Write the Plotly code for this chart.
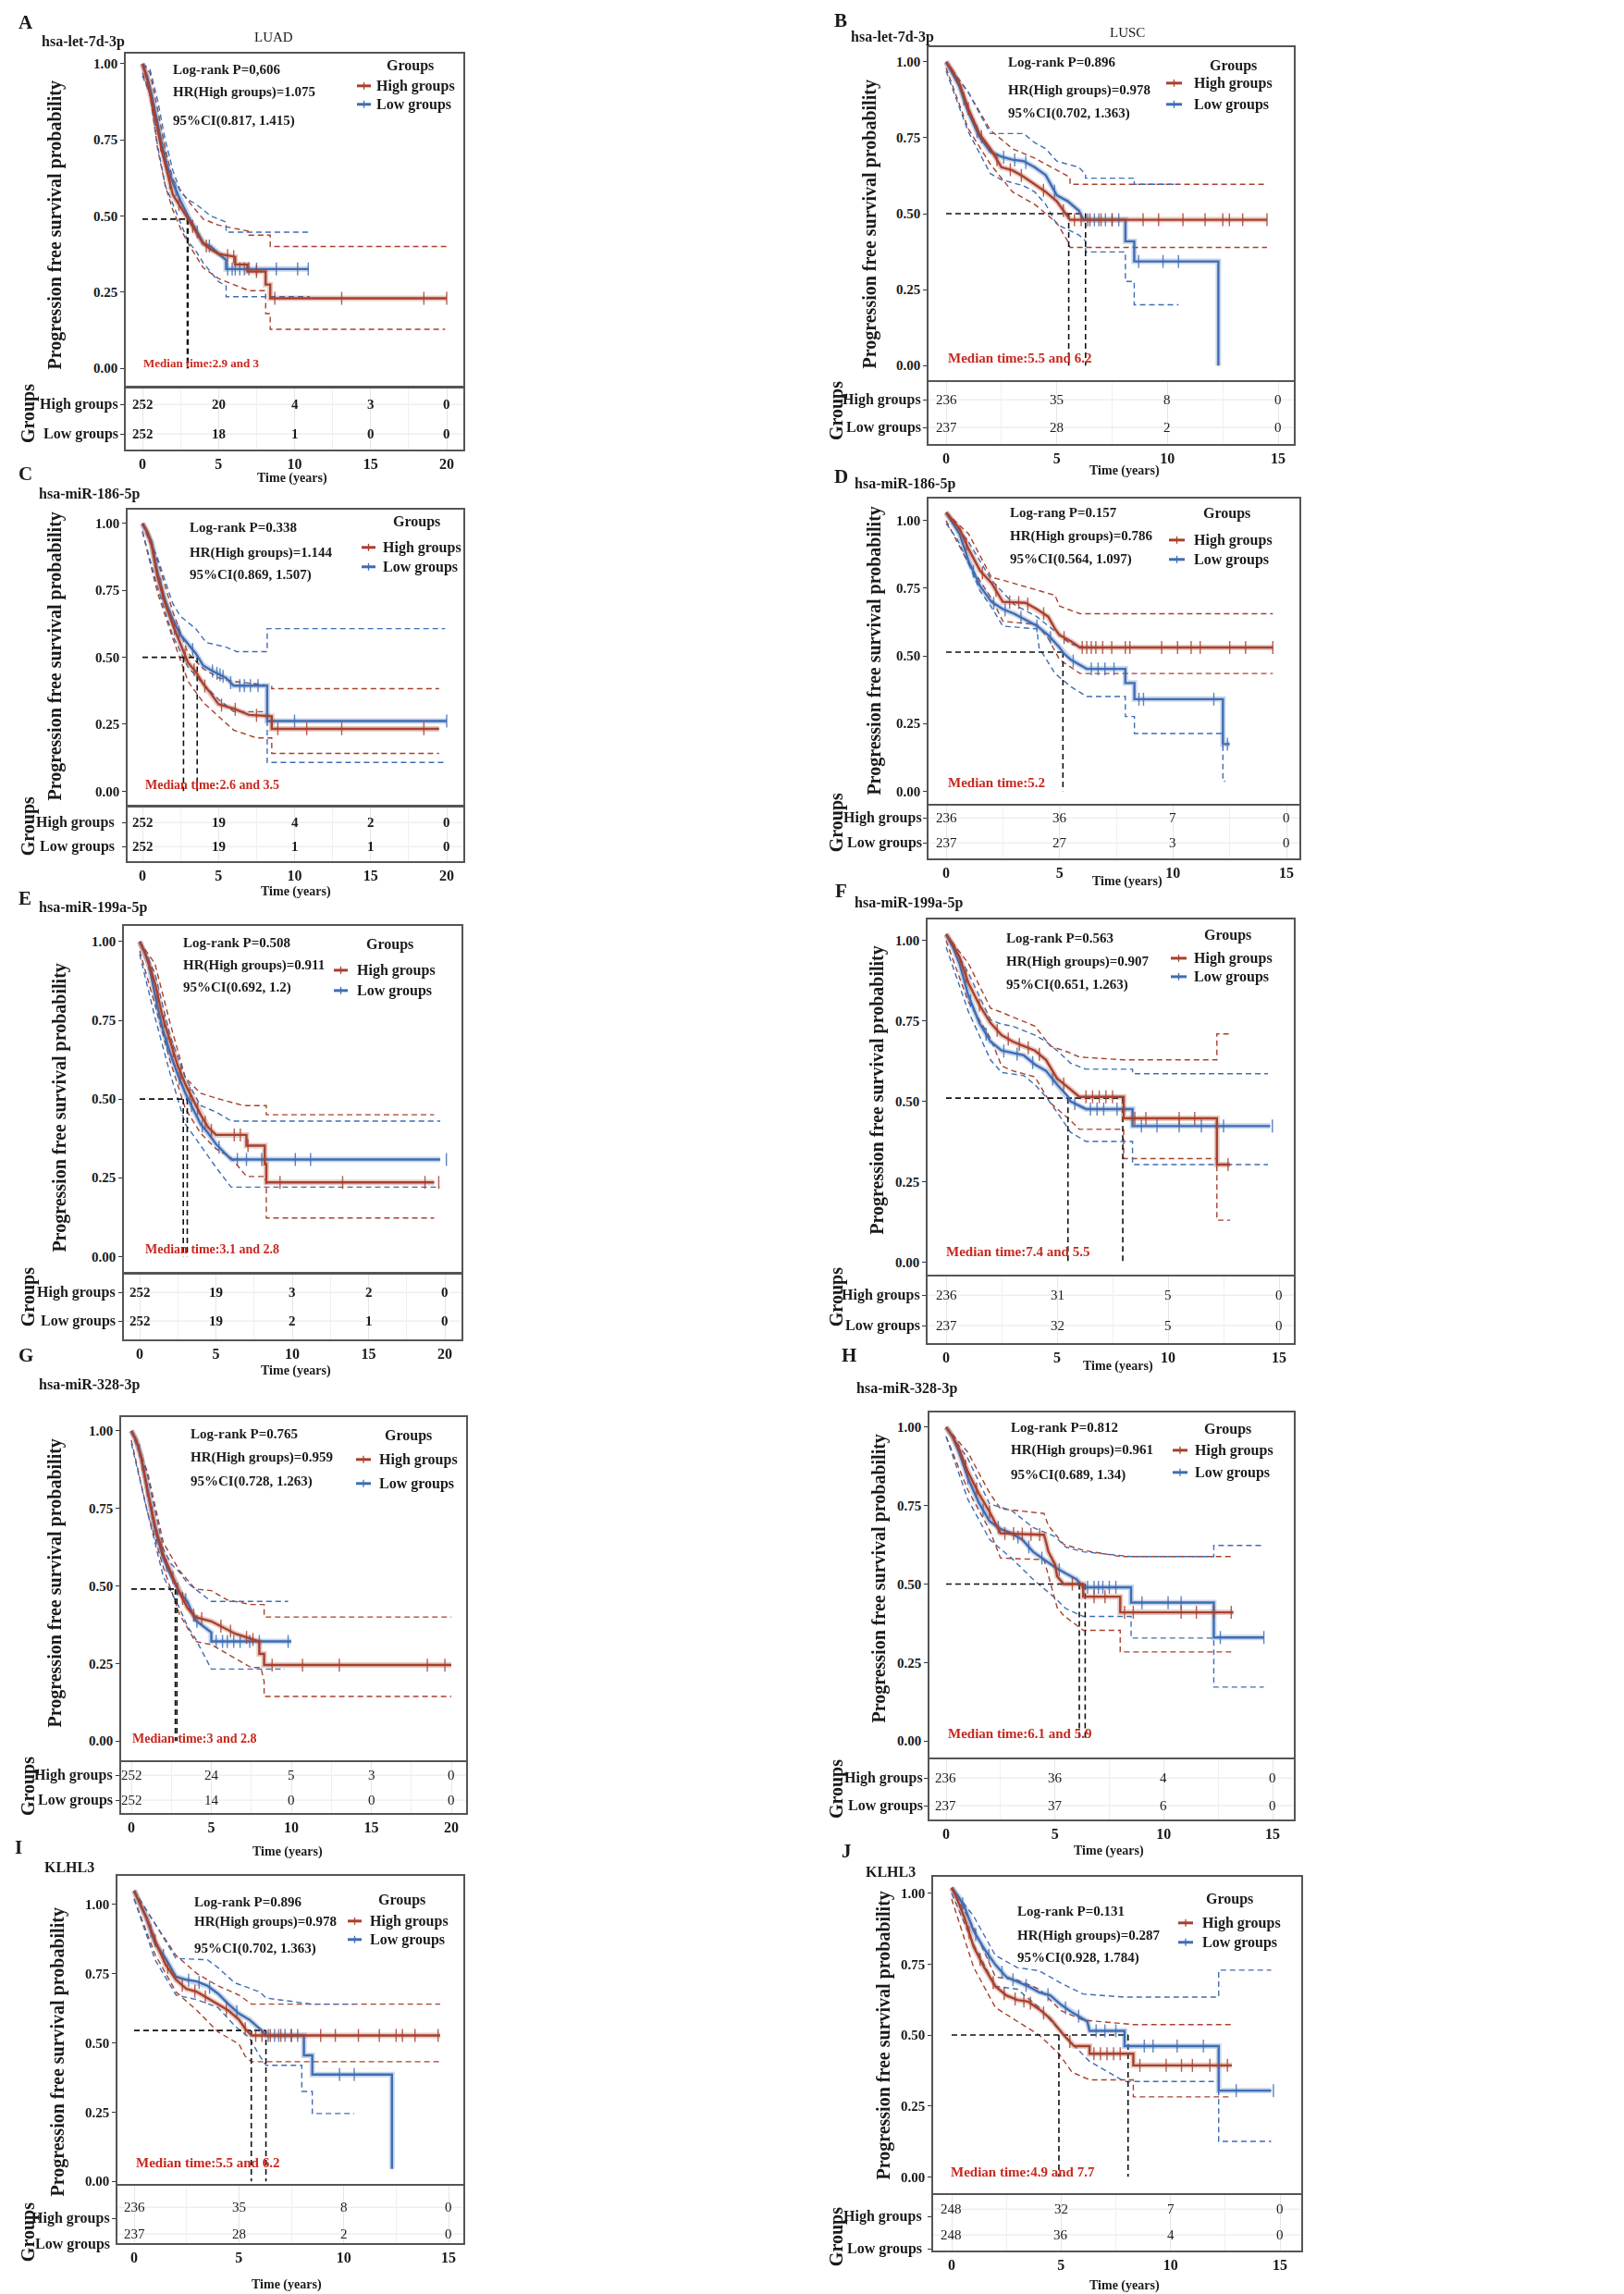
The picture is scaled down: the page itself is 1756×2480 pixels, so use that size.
import plotly.graph_objects as go

# ===================== DATA =====================
T20 = [0, 5, 10, 15, 20]
T15 = [0, 5, 10, 15]
Y_TICKS = [0, 0.25, 0.5, 0.75, 1.0]
Y_TICKTEXT = ["0.00", "0.25", "0.50", "0.75", "1.00"]
GROUP_NAMES = ["High groups", "Low groups"]

# ---- A: hsa-let-7d-3p LUAD ----
a_hi_t = [0, 0.3, 0.6, 1.0, 1.3, 1.6, 2.0, 2.5, 3.0, 3.5, 4.0, 4.5, 5.0, 6.1, 6.1, 6.9, 6.9, 8.1, 8.1, 8.4, 8.4, 20]
a_hi_s = [1.0, 0.95, 0.88, 0.78, 0.71, 0.65, 0.57, 0.53, 0.49, 0.45, 0.41, 0.39, 0.376, 0.366, 0.341, 0.341, 0.318, 0.318, 0.275, 0.275, 0.23, 0.23]
a_lo_t = [0, 0.3, 0.6, 1.0, 1.3, 1.6, 2.0, 2.5, 3.0, 3.5, 4.0, 4.5, 5.0, 5.5, 5.5, 10.9]
a_lo_s = [1.0, 0.96, 0.9, 0.8, 0.73, 0.67, 0.61, 0.55, 0.50, 0.457, 0.41, 0.40, 0.376, 0.356, 0.326, 0.326]
a_hu_t = [0, 0.5, 1, 1.5, 2, 2.5, 3, 3.5, 4, 5, 6.2, 7, 7, 8.4, 8.4, 20]
a_hu_s = [1.0, 0.97, 0.85, 0.72, 0.62, 0.585, 0.55, 0.52, 0.49, 0.47, 0.457, 0.45, 0.437, 0.437, 0.40, 0.40]
a_hl_t = [0, 0.5, 1, 1.5, 2, 2.5, 3, 3.5, 4, 5, 6, 7, 8.1, 8.1, 8.4, 8.4, 19.9]
a_hl_s = [0.97, 0.9, 0.72, 0.6, 0.52, 0.46, 0.41, 0.37, 0.33, 0.295, 0.275, 0.255, 0.255, 0.18, 0.18, 0.128, 0.128]
a_lu_t = [0, 0.5, 1, 1.5, 2, 2.5, 3, 3.5, 4, 4.5, 5.5, 5.5, 11]
a_lu_s = [1.0, 0.98, 0.88, 0.75, 0.65, 0.58, 0.553, 0.54, 0.52, 0.5, 0.48, 0.447, 0.447]
a_ll_t = [0, 0.5, 1, 1.5, 2, 2.5, 3, 3.5, 4, 5, 5.5, 5.5, 11]
a_ll_s = [0.96, 0.9, 0.73, 0.6, 0.54, 0.477, 0.417, 0.386, 0.346, 0.285, 0.27, 0.235, 0.235]
a_hi_c = [1.2, 1.8, 2.4, 3.3, 4.2, 5.6, 6.0, 7.5, 8.7, 13.1, 18.5, 20]
a_lo_c = [1.0, 1.5, 2.2, 3.6, 4.4, 5.6, 5.9, 6.1, 6.4, 6.7, 7.0, 7.5, 8.8, 10.2, 10.9]
a_med = [2.95, 3.0]
a_med_level = 0.49
a_risk_hi = [252, 20, 4, 3, 0]
a_risk_lo = [252, 18, 1, 0, 0]
a_stats = ["Log-rank P=0,606", "HR(High groups)=1.075", "95%CI(0.817, 1.415)"]
a_median_text = "Median time:2.9 and 3"

# ---- B: hsa-let-7d-3p LUSC ----
b_hi_t = [0, 0.3, 0.6, 1.0, 1.5, 2.0, 2.5, 3.0, 3.5, 4.0, 4.5, 5.0, 5.5, 5.6, 14.5]
b_hi_s = [1.0, 0.97, 0.93, 0.846, 0.764, 0.714, 0.653, 0.643, 0.622, 0.597, 0.572, 0.541, 0.49, 0.48, 0.48]
b_lo_t = [0, 0.3, 0.6, 1.0, 1.5, 2.0, 2.5, 3.0, 3.5, 4.0, 4.5, 5.0, 5.5, 6.0, 6.2, 8.1, 8.1, 8.5, 8.5, 12.3, 12.3]
b_lo_s = [1.0, 0.96, 0.92, 0.836, 0.754, 0.704, 0.688, 0.678, 0.673, 0.653, 0.627, 0.561, 0.541, 0.51, 0.48, 0.48, 0.409, 0.409, 0.343, 0.343, 0.0]
b_hu_t = [0, 1, 2, 3, 4, 5, 5.6, 5.6, 14.5]
b_hu_s = [1.0, 0.9, 0.775, 0.714, 0.683, 0.643, 0.62, 0.597, 0.597]
b_hl_t = [0, 1, 2, 3, 4, 5, 5.5, 5.6, 14.5]
b_hl_s = [0.98, 0.78, 0.663, 0.572, 0.531, 0.47, 0.409, 0.389, 0.389]
b_lu_t = [0, 1, 2, 3.5, 4, 4.5, 5, 6, 6.3, 6.3, 8.5, 8.5, 10.5]
b_lu_s = [1.0, 0.9, 0.764, 0.764, 0.734, 0.714, 0.673, 0.653, 0.63, 0.617, 0.617, 0.597, 0.597]
b_ll_t = [0, 1, 2, 2.5, 3.5, 4, 4.5, 5, 6, 6.3, 6.3, 8.1, 8.1, 8.5, 8.5, 10.5]
b_ll_s = [0.97, 0.77, 0.632, 0.612, 0.592, 0.572, 0.531, 0.465, 0.43, 0.41, 0.374, 0.374, 0.277, 0.277, 0.2, 0.2]
b_hi_c = [1.0, 1.6, 2.3, 2.9, 3.4, 4.4, 5.3, 5.8, 6.1, 6.5, 7.0, 7.5, 8.9, 9.6, 10.7, 11.7, 12.5, 12.8, 13.4, 14.5]
b_lo_c = [0.8, 1.4, 2.6, 3.1, 3.6, 4.9, 6.4, 6.7, 6.9, 7.2, 7.5, 7.8, 8.7, 9.8, 10.5]
b_med = [5.54, 6.3]
b_med_level = 0.5
b_risk_hi = [236, 35, 8, 0]
b_risk_lo = [237, 28, 2, 0]
b_stats = ["Log-rank P=0.896", "HR(High groups)=0.978", "95%CI(0.702, 1.363)"]
b_median_text = "Median time:5.5 and 6.2"

# ---- C: hsa-miR-186-5p LUAD ----
c_hi_t = [0, 0.3, 0.6, 1.0, 1.5, 2.0, 2.5, 3.0, 3.5, 4.0, 4.5, 5.0, 6.0, 7.0, 8.5, 8.5, 19.5]
c_hi_s = [1.0, 0.97, 0.92, 0.80, 0.70, 0.62, 0.55, 0.48, 0.446, 0.40, 0.365, 0.325, 0.308, 0.285, 0.28, 0.233, 0.233]
c_lo_t = [0, 0.3, 0.6, 1.0, 1.5, 2.0, 2.5, 3.0, 3.5, 4.0, 4.5, 5.5, 6.0, 8.2, 8.2, 20]
c_lo_s = [1.0, 0.97, 0.93, 0.814, 0.71, 0.641, 0.584, 0.55, 0.515, 0.469, 0.452, 0.423, 0.394, 0.394, 0.262, 0.262]
c_hu_t = [0, 1, 2, 3, 4, 5, 6, 8.2, 8.5, 8.5, 19.5]
c_hu_s = [1.0, 0.86, 0.67, 0.515, 0.457, 0.423, 0.41, 0.394, 0.394, 0.383, 0.383]
c_hl_t = [0, 1, 2, 3, 4, 5, 6, 7.5, 8.5, 8.5, 19.5]
c_hl_s = [0.97, 0.74, 0.57, 0.41, 0.331, 0.28, 0.228, 0.199, 0.199, 0.141, 0.141]
c_lu_t = [0, 1, 2, 2.5, 3, 3.5, 4.2, 5.5, 6.2, 8.2, 8.2, 19.9]
c_lu_s = [1.0, 0.87, 0.70, 0.653, 0.63, 0.607, 0.555, 0.538, 0.521, 0.521, 0.607, 0.607]
c_ll_t = [0, 1, 2, 3, 4, 5, 6, 8.2, 8.2, 19.9]
c_ll_s = [0.97, 0.76, 0.58, 0.463, 0.40, 0.343, 0.297, 0.297, 0.107, 0.107]
c_hi_c = [1.3, 2.1, 2.8, 3.4, 4.1, 5.2, 6.1, 7.5, 8.9, 10.8, 13.1, 18.5]
c_lo_c = [1.2, 2.4, 3.3, 4.6, 4.9, 5.1, 5.3, 5.8, 6.4, 6.7, 7.1, 7.6, 10.0, 20]
c_med = [2.7, 3.6]
c_med_level = 0.5
c_risk_hi = [252, 19, 4, 2, 0]
c_risk_lo = [252, 19, 1, 1, 0]
c_stats = ["Log-rank P=0.338", "HR(High groups)=1.144", "95%CI(0.869, 1.507)"]
c_median_text = "Median time:2.6 and 3.5"

# ---- D: hsa-miR-186-5p LUSC ----
d_hi_t = [0, 0.3, 0.6, 1.0, 1.5, 2.0, 2.5, 3.5, 4.0, 4.5, 4.8, 5.0, 5.5, 5.9, 14.4]
d_hi_s = [1.03, 1.0, 0.97, 0.894, 0.815, 0.77, 0.70, 0.696, 0.673, 0.645, 0.60, 0.577, 0.554, 0.531, 0.531]
d_lo_t = [0, 0.3, 0.6, 1.0, 1.5, 2.0, 2.5, 3.0, 3.5, 4.0, 4.5, 5.0, 5.2, 5.5, 6.2, 7.9, 7.9, 8.3, 8.3, 12.2, 12.2, 12.5]
d_lo_s = [1.03, 0.99, 0.95, 0.849, 0.758, 0.70, 0.673, 0.656, 0.633, 0.611, 0.577, 0.531, 0.508, 0.486, 0.452, 0.452, 0.40, 0.40, 0.34, 0.34, 0.174, 0.174]
d_hu_t = [0, 1, 2, 2.5, 4.8, 5, 5.9, 14.4]
d_hu_s = [1.03, 0.95, 0.79, 0.78, 0.724, 0.684, 0.656, 0.656]
d_hl_t = [0, 1, 2, 2.5, 4, 4.5, 5, 5.9, 14.4]
d_hl_s = [1.0, 0.84, 0.713, 0.628, 0.616, 0.565, 0.486, 0.435, 0.435]
d_lu_t = [0, 1, 2, 3, 4, 5, 5.5, 6.2, 12.5]
d_lu_s = [1.03, 0.92, 0.78, 0.69, 0.645, 0.577, 0.543, 0.53, 0.53]
d_ll_t = [0, 0.5, 1, 1.5, 2, 2.5, 4, 4.1, 4.8, 5.5, 6.2, 7.9, 7.9, 8.3, 8.3, 12.2, 12.2, 12.3]
d_ll_s = [0.99, 0.93, 0.84, 0.74, 0.68, 0.61, 0.60, 0.53, 0.435, 0.386, 0.35, 0.35, 0.276, 0.276, 0.213, 0.213, 0.037, 0.037]
d_hi_c = [0.9, 1.6, 2.2, 2.8, 3.2, 3.6, 4.3, 5.2, 6.0, 6.2, 6.4, 6.6, 6.9, 7.3, 7.9, 8.1, 9.5, 10.2, 10.8, 11.2, 12.5, 13.2, 14.4]
d_lo_c = [1.2, 2.1, 2.6, 3.3, 4.0, 4.6, 5.6, 6.4, 6.7, 7.0, 7.4, 8.5, 8.7, 11.8, 12.4]
d_med = [5.15]
d_med_level = 0.514
d_risk_hi = [236, 36, 7, 0]
d_risk_lo = [237, 27, 3, 0]
d_stats = ["Log-rang P=0.157", "HR(High groups)=0.786", "95%CI(0.564, 1.097)"]
d_median_text = "Median time:5.2"

# ---- E: hsa-miR-199a-5p LUAD ----
e_hi_t = [0, 0.3, 0.6, 1.0, 1.5, 2.0, 2.5, 3.0, 3.5, 4.0, 4.5, 5.0, 7.0, 7.0, 8.2, 8.2, 8.3, 8.3, 19.3]
e_hi_s = [1.0, 0.97, 0.93, 0.87, 0.762, 0.684, 0.606, 0.547, 0.499, 0.45, 0.41, 0.386, 0.386, 0.352, 0.352, 0.293, 0.293, 0.235, 0.235]
e_lo_t = [0, 0.3, 0.6, 1.0, 1.5, 2.0, 2.5, 3.0, 3.5, 4.0, 4.5, 5.0, 5.5, 6.0, 19.7]
e_lo_s = [1.0, 0.97, 0.93, 0.831, 0.723, 0.645, 0.577, 0.518, 0.469, 0.42, 0.391, 0.357, 0.332, 0.308, 0.308]
e_hu_t = [0, 1, 2, 3, 4, 5, 6.8, 8.3, 8.3, 19.3]
e_hu_s = [1.0, 0.93, 0.74, 0.567, 0.518, 0.503, 0.479, 0.479, 0.45, 0.45]
e_hl_t = [0, 1, 2, 3, 4, 5, 6, 7, 8.2, 8.3, 8.3, 19.3]
e_hl_s = [0.97, 0.8, 0.62, 0.469, 0.391, 0.342, 0.313, 0.254, 0.254, 0.235, 0.122, 0.122]
e_lu_t = [0, 1, 2, 3, 4, 5, 6, 19.7]
e_lu_s = [1.0, 0.9, 0.70, 0.567, 0.479, 0.459, 0.43, 0.43]
e_ll_t = [0, 1, 2, 3, 4, 5, 6, 19.7]
e_ll_s = [0.96, 0.76, 0.58, 0.42, 0.352, 0.283, 0.22, 0.22]
e_hi_c = [0.8, 1.2, 1.6, 2.2, 2.7, 3.3, 3.8, 4.3, 4.7, 6.2, 6.6, 7.1, 9.2, 13.3, 18.7, 19.6]
e_lo_c = [0.6, 1.1, 1.8, 2.6, 3.4, 4.1, 5.2, 6.4, 7.0, 8.0, 10.2, 11.2, 20.1]
e_med = [2.86, 3.12]
e_med_level = 0.5
e_risk_hi = [252, 19, 3, 2, 0]
e_risk_lo = [252, 19, 2, 1, 0]
e_stats = ["Log-rank P=0.508", "HR(High groups)=0.911", "95%CI(0.692, 1.2)"]
e_median_text = "Median time:3.1 and 2.8"

# ---- F: hsa-miR-199a-5p LUSC ----
f_hi_t = [0, 0.3, 0.6, 1.0, 1.5, 2.0, 2.5, 3.0, 3.5, 4.0, 4.5, 5.0, 5.5, 6.0, 8.0, 8.0, 12.2, 12.2, 12.8]
f_hi_s = [1.02, 0.99, 0.95, 0.869, 0.80, 0.744, 0.706, 0.686, 0.672, 0.658, 0.629, 0.571, 0.543, 0.514, 0.514, 0.447, 0.447, 0.303, 0.303]
f_lo_t = [0, 0.3, 0.6, 1.0, 1.5, 2.0, 2.5, 3.5, 4.0, 4.5, 5.0, 5.5, 5.6, 6.3, 8.4, 8.4, 14.6]
f_lo_s = [1.02, 0.98, 0.93, 0.83, 0.744, 0.686, 0.658, 0.643, 0.615, 0.595, 0.552, 0.514, 0.50, 0.476, 0.476, 0.423, 0.423]
f_hu_t = [0, 1, 2, 2.5, 4, 4.7, 5.5, 6, 8, 12.2, 12.2, 12.8]
f_hu_s = [1.02, 0.93, 0.79, 0.777, 0.734, 0.672, 0.653, 0.638, 0.629, 0.629, 0.71, 0.71]
f_hl_t = [0, 1, 2, 2.5, 3, 4, 4.7, 5.5, 6, 8, 8, 12.2, 12.2, 12.8]
f_hl_s = [1.0, 0.81, 0.696, 0.61, 0.595, 0.576, 0.495, 0.447, 0.413, 0.413, 0.322, 0.322, 0.13, 0.13]
f_lu_t = [0, 1, 2, 2.5, 3, 4, 4.5, 5, 5.6, 6.3, 8.4, 8.4, 14.5]
f_lu_s = [1.02, 0.90, 0.754, 0.74, 0.734, 0.706, 0.686, 0.658, 0.619, 0.60, 0.60, 0.586, 0.586]
f_ll_t = [0, 1, 2, 2.5, 3.5, 4, 4.5, 5, 5.6, 6.3, 8.4, 8.4, 14.5]
f_ll_s = [0.98, 0.78, 0.629, 0.59, 0.58, 0.552, 0.514, 0.466, 0.404, 0.375, 0.375, 0.303, 0.303]
f_hi_c = [0.9, 1.5, 2.3, 2.8, 3.3, 3.7, 4.2, 5.3, 6.3, 6.6, 6.9, 7.2, 7.5, 8.5, 9.0, 10.5, 11.2, 12.7]
f_lo_c = [1.1, 1.8, 2.6, 3.2, 3.9, 4.8, 5.8, 6.5, 6.8, 7.1, 7.7, 8.8, 9.5, 10.5, 11.5, 12.5, 14.7]
f_med = [5.49, 7.96]
f_med_level = 0.51
f_risk_hi = [236, 31, 5, 0]
f_risk_lo = [237, 32, 5, 0]
f_stats = ["Log-rank P=0.563", "HR(High groups)=0.907", "95%CI(0.651, 1.263)"]
f_median_text = "Median time:7.4 and 5.5"

# ---- G: hsa-miR-328-3p LUAD ----
g_hi_t = [0, 0.3, 0.6, 1.0, 1.5, 2.0, 2.5, 3.0, 3.5, 4.0, 5.0, 6.0, 6.5, 8.0, 8.0, 8.3, 8.3, 20]
g_hi_s = [1.0, 0.97, 0.92, 0.808, 0.689, 0.60, 0.54, 0.48, 0.43, 0.40, 0.386, 0.36, 0.346, 0.321, 0.281, 0.281, 0.245, 0.245]
g_lo_t = [0, 0.3, 0.6, 1.0, 1.5, 2.0, 2.5, 3.0, 3.5, 4.0, 4.5, 5.0, 5.0, 10.0]
g_lo_s = [1.0, 0.97, 0.92, 0.81, 0.679, 0.589, 0.53, 0.48, 0.45, 0.39, 0.371, 0.35, 0.321, 0.321]
g_hu_t = [0, 1, 2, 3, 4, 5, 6, 7.5, 8.3, 8.3, 20]
g_hu_s = [1.0, 0.87, 0.64, 0.55, 0.49, 0.485, 0.455, 0.44, 0.44, 0.40, 0.40]
g_hl_t = [0, 1, 2, 3, 4, 5, 6, 7.5, 8.1, 8.3, 8.3, 20]
g_hl_s = [0.97, 0.74, 0.56, 0.41, 0.321, 0.311, 0.281, 0.237, 0.237, 0.192, 0.144, 0.144]
g_lu_t = [0, 1, 2, 2.5, 3, 3.5, 4, 5, 9.8]
g_lu_s = [1.0, 0.86, 0.62, 0.57, 0.545, 0.51, 0.49, 0.45, 0.45]
g_ll_t = [0, 1, 2, 3, 3.5, 4, 5, 9.6]
g_ll_s = [0.96, 0.74, 0.53, 0.43, 0.371, 0.331, 0.232, 0.232]
g_hi_c = [0.7, 1.3, 1.9, 2.6, 3.2, 3.9, 4.4, 5.6, 6.2, 7.2, 7.6, 8.8, 10.7, 13.0, 18.5, 19.6]
g_lo_c = [0.5, 1.0, 1.6, 2.2, 2.9, 3.4, 4.1, 5.3, 5.7, 6.0, 6.4, 6.8, 7.4, 8.0, 9.8]
g_med = [2.75, 2.85]
g_med_level = 0.49
g_risk_hi = [252, 24, 5, 3, 0]
g_risk_lo = [252, 14, 0, 0, 0]
g_stats = ["Log-rank P=0.765", "HR(High groups)=0.959", "95%CI(0.728, 1.263)"]
g_median_text = "Median time:3 and 2.8"

# ---- H: hsa-miR-328-3p LUSC ----
h_hi_t = [0, 0.3, 0.6, 1.0, 1.5, 2.0, 2.5, 4.5, 4.6, 4.7, 5.0, 5.1, 5.4, 6.3, 6.3, 8.0, 8.0, 13.2]
h_hi_s = [1.0, 0.97, 0.93, 0.858, 0.789, 0.73, 0.662, 0.657, 0.632, 0.603, 0.564, 0.525, 0.50, 0.50, 0.46, 0.46, 0.41, 0.41]
h_lo_t = [0, 0.3, 0.6, 1.0, 1.5, 2.0, 2.5, 3.0, 3.5, 4.0, 4.5, 5.0, 5.5, 6.0, 6.3, 8.5, 8.5, 12.3, 12.3, 14.6]
h_lo_s = [1.0, 0.97, 0.92, 0.838, 0.76, 0.70, 0.676, 0.662, 0.642, 0.603, 0.578, 0.554, 0.534, 0.515, 0.49, 0.49, 0.441, 0.441, 0.33, 0.33]
h_hu_t = [0, 1, 2, 2.5, 4.5, 4.7, 5.4, 6.3, 8, 13.2]
h_hu_s = [1.0, 0.92, 0.79, 0.74, 0.725, 0.686, 0.627, 0.608, 0.588, 0.588]
h_hl_t = [0, 1, 2, 2.5, 4.5, 4.7, 5.1, 5.4, 6.3, 8, 8, 13.2]
h_hl_s = [0.97, 0.80, 0.672, 0.583, 0.578, 0.525, 0.426, 0.40, 0.353, 0.353, 0.284, 0.284]
h_lu_t = [0, 1, 2, 3, 4, 5, 5.5, 6.3, 8.5, 12.3, 12.3, 14.6]
h_lu_s = [1.0, 0.90, 0.755, 0.735, 0.68, 0.652, 0.618, 0.603, 0.588, 0.588, 0.623, 0.623]
h_ll_t = [0, 1, 2, 3, 4, 5, 5.5, 6.3, 8.5, 8.5, 12.3, 12.3, 14.6]
h_ll_s = [0.97, 0.77, 0.642, 0.583, 0.515, 0.456, 0.422, 0.397, 0.397, 0.328, 0.328, 0.172, 0.172]
h_hi_c = [0.9, 1.4, 2.0, 2.7, 3.1, 3.5, 3.9, 4.3, 5.8, 6.8, 7.3, 8.2, 8.6, 10.8, 11.5, 12.3, 13.1]
h_lo_c = [1.0, 1.7, 2.4, 3.3, 3.8, 4.4, 5.2, 6.5, 6.8, 7.0, 7.2, 7.5, 7.8, 9.0, 10.2, 10.8, 12.6, 14.6]
h_med = [6.12, 6.39]
h_med_level = 0.5
h_risk_hi = [236, 36, 4, 0]
h_risk_lo = [237, 37, 6, 0]
h_stats = ["Log-rank P=0.812", "HR(High groups)=0.961", "95%CI(0.689, 1.34)"]
h_median_text = "Median time:6.1 and 5.9"

# ---- I: KLHL3 LUAD ----
i_hi_t = [0, 0.3, 0.6, 1.0, 1.5, 2.0, 2.5, 3.0, 3.5, 4.0, 4.5, 5.0, 5.3, 5.6, 14.6]
i_hi_s = [1.05, 1.0, 0.95, 0.87, 0.783, 0.728, 0.695, 0.684, 0.662, 0.64, 0.617, 0.584, 0.551, 0.527, 0.527]
i_lo_t = [0, 0.3, 0.6, 1.0, 1.5, 2.0, 2.5, 3.0, 3.5, 4.0, 4.5, 5.0, 5.5, 6.0, 6.3, 8.1, 8.1, 8.5, 8.5, 12.3, 12.3]
i_lo_s = [1.05, 1.0, 0.95, 0.86, 0.805, 0.739, 0.728, 0.722, 0.706, 0.678, 0.64, 0.606, 0.584, 0.551, 0.527, 0.527, 0.455, 0.455, 0.386, 0.386, 0.045]
i_hu_t = [0, 1, 2, 3, 4, 5, 5.6, 14.6]
i_hu_s = [1.05, 0.93, 0.816, 0.75, 0.706, 0.673, 0.64, 0.64]
i_hl_t = [0, 1, 2, 3, 4, 5, 5.3, 5.6, 14.6]
i_hl_s = [1.02, 0.82, 0.684, 0.617, 0.54, 0.496, 0.452, 0.432, 0.432]
i_lu_t = [0, 1, 2, 3.5, 4, 4.8, 6, 6.3, 8.5, 10.5]
i_lu_s = [1.05, 0.93, 0.805, 0.80, 0.772, 0.717, 0.684, 0.662, 0.64, 0.64]
i_ll_t = [0, 1, 2, 3, 4, 4.8, 5.5, 6, 6.3, 8, 8, 8.5, 8.5, 10.5]
i_ll_s = [1.02, 0.80, 0.673, 0.656, 0.628, 0.562, 0.518, 0.452, 0.419, 0.419, 0.325, 0.325, 0.245, 0.245]
i_hi_c = [1.0, 1.6, 2.3, 2.9, 3.4, 4.4, 5.3, 5.8, 6.1, 6.5, 7.0, 7.5, 8.9, 9.6, 10.7, 11.7, 12.5, 12.8, 13.4, 14.5]
i_lo_c = [0.8, 1.4, 2.6, 3.1, 3.6, 4.9, 6.4, 6.7, 6.9, 7.2, 7.5, 7.8, 9.8, 10.5]
i_med = [5.59, 6.29]
i_med_level = 0.545
i_risk_hi = [236, 35, 8, 0]
i_risk_lo = [237, 28, 2, 0]
i_stats = ["Log-rank P=0.896", "HR(High groups)=0.978", "95%CI(0.702, 1.363)"]
i_median_text = "Median time:5.5 and 6.2"

# ---- J: KLHL3 LUSC ----
j_hi_t = [0, 0.3, 0.6, 1.0, 1.5, 2.0, 2.5, 3.0, 3.5, 4.0, 4.5, 4.9, 5.2, 5.6, 6.3, 6.3, 8.3, 8.3, 12.8]
j_hi_s = [1.02, 0.97, 0.91, 0.813, 0.737, 0.672, 0.64, 0.624, 0.618, 0.591, 0.559, 0.521, 0.493, 0.461, 0.461, 0.434, 0.434, 0.393, 0.393]
j_lo_t = [0, 0.3, 0.6, 1.0, 1.5, 2.0, 2.5, 3.0, 3.5, 4.0, 4.5, 5.0, 5.5, 6.2, 6.3, 7.9, 7.9, 12.2, 12.2, 14.6]
j_lo_s = [1.02, 0.99, 0.95, 0.868, 0.803, 0.748, 0.705, 0.689, 0.672, 0.651, 0.64, 0.607, 0.58, 0.548, 0.515, 0.515, 0.461, 0.461, 0.304, 0.304]
j_hu_t = [0, 1, 2, 3, 4, 5, 6, 8.3, 12.8]
j_hu_s = [1.02, 0.88, 0.705, 0.694, 0.662, 0.586, 0.553, 0.537, 0.537]
j_hl_t = [0, 1, 2, 3, 4, 4.9, 5.5, 6.3, 8.3, 8.3, 12.8]
j_hl_s = [0.98, 0.74, 0.597, 0.548, 0.50, 0.434, 0.369, 0.342, 0.342, 0.282, 0.282]
j_lu_t = [0, 1, 2, 3, 4, 5, 6, 7.9, 12.2, 12.2, 14.6]
j_lu_s = [1.02, 0.92, 0.781, 0.738, 0.727, 0.683, 0.645, 0.634, 0.634, 0.729, 0.729]
j_ll_t = [0, 1, 2, 3, 4, 5, 6.3, 7.9, 12.2, 12.2, 14.6]
j_ll_s = [1.0, 0.82, 0.672, 0.662, 0.597, 0.51, 0.407, 0.336, 0.336, 0.125, 0.125]
j_hi_c = [0.8, 1.3, 1.9, 2.4, 2.9, 3.3, 3.6, 4.2, 5.4, 6.5, 6.8, 7.1, 7.4, 7.7, 8.6, 9.8, 10.5, 11.0, 11.8, 12.6]
j_lo_c = [0.5, 1.1, 1.7, 2.3, 2.8, 3.4, 4.4, 5.2, 5.8, 6.6, 7.0, 7.5, 8.8, 9.2, 10.3, 11.5, 13.0, 14.7]
j_med = [4.9, 8.06]
j_med_level = 0.5
j_risk_hi = [248, 32, 7, 0]
j_risk_lo = [248, 36, 4, 0]
j_stats = ["Log-rank P=0.131", "HR(High groups)=0.287", "95%CI(0.928, 1.784)"]
j_median_text = "Median time:4.9 and 7.7"

# ===================== STYLE / LAYOUT =====================
W, H = 1756, 2480
FONT = "Liberation Serif"
RED = "#A8402C"
BLUE = "#3E6DB5"
RED_HALO = "rgba(168,64,44,0.28)"
BLUE_HALO = "rgba(62,109,181,0.28)"
MED_RED = "#C8281E"
BOXC = "#555555"
TXT = "#1a1a1a"

panels = [
    dict(letter="A", gene="hsa-let-7d-3p", title="LUAD", xt=T20,
         hi=(a_hi_t, a_hi_s), lo=(a_lo_t, a_lo_s), hu=(a_hu_t, a_hu_s), hl=(a_hl_t, a_hl_s),
         lu=(a_lu_t, a_lu_s), ll=(a_ll_t, a_ll_s), hc=a_hi_c, lc=a_lo_c, med=a_med, medlev=a_med_level,
         rh=a_risk_hi, rl=a_risk_lo, stats=a_stats, medtxt=a_median_text, numbold=True),
    dict(letter="B", gene="hsa-let-7d-3p", title="LUSC", xt=T15,
         hi=(b_hi_t, b_hi_s), lo=(b_lo_t, b_lo_s), hu=(b_hu_t, b_hu_s), hl=(b_hl_t, b_hl_s),
         lu=(b_lu_t, b_lu_s), ll=(b_ll_t, b_ll_s), hc=b_hi_c, lc=b_lo_c, med=b_med, medlev=b_med_level,
         rh=b_risk_hi, rl=b_risk_lo, stats=b_stats, medtxt=b_median_text, numbold=False),
    dict(letter="C", gene="hsa-miR-186-5p", title=None, xt=T20,
         hi=(c_hi_t, c_hi_s), lo=(c_lo_t, c_lo_s), hu=(c_hu_t, c_hu_s), hl=(c_hl_t, c_hl_s),
         lu=(c_lu_t, c_lu_s), ll=(c_ll_t, c_ll_s), hc=c_hi_c, lc=c_lo_c, med=c_med, medlev=c_med_level,
         rh=c_risk_hi, rl=c_risk_lo, stats=c_stats, medtxt=c_median_text, numbold=True),
    dict(letter="D", gene="hsa-miR-186-5p", title=None, xt=T15,
         hi=(d_hi_t, d_hi_s), lo=(d_lo_t, d_lo_s), hu=(d_hu_t, d_hu_s), hl=(d_hl_t, d_hl_s),
         lu=(d_lu_t, d_lu_s), ll=(d_ll_t, d_ll_s), hc=d_hi_c, lc=d_lo_c, med=d_med, medlev=d_med_level,
         rh=d_risk_hi, rl=d_risk_lo, stats=d_stats, medtxt=d_median_text, numbold=False),
    dict(letter="E", gene="hsa-miR-199a-5p", title=None, xt=T20,
         hi=(e_hi_t, e_hi_s), lo=(e_lo_t, e_lo_s), hu=(e_hu_t, e_hu_s), hl=(e_hl_t, e_hl_s),
         lu=(e_lu_t, e_lu_s), ll=(e_ll_t, e_ll_s), hc=e_hi_c, lc=e_lo_c, med=e_med, medlev=e_med_level,
         rh=e_risk_hi, rl=e_risk_lo, stats=e_stats, medtxt=e_median_text, numbold=True),
    dict(letter="F", gene="hsa-miR-199a-5p", title=None, xt=T15,
         hi=(f_hi_t, f_hi_s), lo=(f_lo_t, f_lo_s), hu=(f_hu_t, f_hu_s), hl=(f_hl_t, f_hl_s),
         lu=(f_lu_t, f_lu_s), ll=(f_ll_t, f_ll_s), hc=f_hi_c, lc=f_lo_c, med=f_med, medlev=f_med_level,
         rh=f_risk_hi, rl=f_risk_lo, stats=f_stats, medtxt=f_median_text, numbold=False),
    dict(letter="G", gene="hsa-miR-328-3p", title=None, xt=T20,
         hi=(g_hi_t, g_hi_s), lo=(g_lo_t, g_lo_s), hu=(g_hu_t, g_hu_s), hl=(g_hl_t, g_hl_s),
         lu=(g_lu_t, g_lu_s), ll=(g_ll_t, g_ll_s), hc=g_hi_c, lc=g_lo_c, med=g_med, medlev=g_med_level,
         rh=g_risk_hi, rl=g_risk_lo, stats=g_stats, medtxt=g_median_text, numbold=False),
    dict(letter="H", gene="hsa-miR-328-3p", title=None, xt=T15,
         hi=(h_hi_t, h_hi_s), lo=(h_lo_t, h_lo_s), hu=(h_hu_t, h_hu_s), hl=(h_hl_t, h_hl_s),
         lu=(h_lu_t, h_lu_s), ll=(h_ll_t, h_ll_s), hc=h_hi_c, lc=h_lo_c, med=h_med, medlev=h_med_level,
         rh=h_risk_hi, rl=h_risk_lo, stats=h_stats, medtxt=h_median_text, numbold=False),
    dict(letter="I", gene="KLHL3", title=None, xt=T15,
         hi=(i_hi_t, i_hi_s), lo=(i_lo_t, i_lo_s), hu=(i_hu_t, i_hu_s), hl=(i_hl_t, i_hl_s),
         lu=(i_lu_t, i_lu_s), ll=(i_ll_t, i_ll_s), hc=i_hi_c, lc=i_lo_c, med=i_med, medlev=i_med_level,
         rh=i_risk_hi, rl=i_risk_lo, stats=i_stats, medtxt=i_median_text, numbold=False),
    dict(letter="J", gene="KLHL3", title=None, xt=T15,
         hi=(j_hi_t, j_hi_s), lo=(j_lo_t, j_lo_s), hu=(j_hu_t, j_hu_s), hl=(j_hl_t, j_hl_s),
         lu=(j_lu_t, j_lu_s), ll=(j_ll_t, j_ll_s), hc=j_hi_c, lc=j_lo_c, med=j_med, medlev=j_med_level,
         rh=j_risk_hi, rl=j_risk_lo, stats=j_stats, medtxt=j_median_text, numbold=False),
]

# pixel geometry of each panel (page pixels); ms = median-text font size
geo = [
    dict(box=(128, 50, 493, 410), y1=61, y0=391, x0=146, xe=475, risk=(413, 479), rows=(430, 462), lrows=(430, 462),
         rlab=122, grp=(22, 440), time=(308, 510), ylab=(52, 236), gene=(35, 37), let=(10, 16), title=(288, 32),
         st=(177, 67, 92, 123), leg=(435, 63, 397, 85, 105, 378, 393), mt=(145, 385), ms=13),
    dict(box=(996, 43, 1391, 404), y1=59, y0=388, x0=1015, xe=1374, risk=(406, 473), rows=(425, 455), lrows=(425, 455),
         rlab=990, grp=(896, 437), time=(1208, 502), ylab=(933, 235), gene=(910, 32), let=(892, 14), title=(1211, 27),
         st=(1080, 59, 90, 115), leg=(1325, 63, 1281, 82, 105, 1253, 1270), mt=(1015, 380), ms=15),
    dict(box=(130, 544, 493, 864), y1=559, y0=849, x0=146, xe=475, risk=(867, 925), rows=(883, 909), lrows=(883, 909),
         rlab=118, grp=(22, 887), time=(312, 958), ylab=(52, 703), gene=(32, 527), let=(10, 505), title=None,
         st=(195, 563, 591, 615), leg=(442, 557, 404, 585, 606, 383, 398), mt=(147, 842), ms=14),
    dict(box=(996, 532, 1397, 863), y1=556, y0=849, x0=1015, xe=1383, risk=(865, 922), rows=(878, 905), lrows=(878, 905),
         rlab=991, grp=(896, 883), time=(1211, 947), ylab=(938, 697), gene=(914, 516), let=(892, 508), title=None,
         st=(1082, 547, 573, 598), leg=(1318, 548, 1281, 577, 598, 1256, 1273), mt=(1015, 840), ms=15),
    dict(box=(126, 995, 491, 1370), y1=1012, y0=1353, x0=143, xe=473, risk=(1373, 1443), rows=(1392, 1423), lrows=(1392, 1423),
         rlab=119, grp=(22, 1397), time=(312, 1477), ylab=(57, 1192), gene=(32, 975), let=(10, 965), title=None,
         st=(188, 1013, 1038, 1062), leg=(413, 1015, 376, 1043, 1065, 353, 368), mt=(147, 1345), ms=14),
    dict(box=(995, 988, 1391, 1373), y1=1011, y0=1359, x0=1015, xe=1375, risk=(1375, 1447), rows=(1395, 1428), lrows=(1395, 1428),
         rlab=989, grp=(896, 1397), time=(1201, 1472), ylab=(941, 1173), gene=(914, 970), let=(893, 957), title=None,
         st=(1078, 1008, 1034, 1059), leg=(1319, 1005, 1281, 1030, 1050, 1258, 1275), mt=(1013, 1348), ms=15),
    dict(box=(123, 1527, 496, 1899), y1=1542, y0=1878, x0=134, xe=480, risk=(1901, 1956), rows=(1915, 1942), lrows=(1915, 1942),
         rlab=116, grp=(22, 1927), time=(303, 1998), ylab=(52, 1707), gene=(32, 1492), let=(10, 1460), title=None,
         st=(196, 1545, 1571, 1597), leg=(433, 1547, 400, 1573, 1599, 377, 393), mt=(133, 1875), ms=14),
    dict(box=(997, 1522, 1391, 1896), y1=1538, y0=1878, x0=1015, xe=1368, risk=(1898, 1963), rows=(1918, 1948), lrows=(1918, 1948),
         rlab=992, grp=(896, 1930), time=(1191, 1997), ylab=(943, 1702), gene=(916, 1496), let=(900, 1460), title=None,
         st=(1083, 1538, 1563, 1590), leg=(1319, 1540, 1282, 1563, 1587, 1260, 1276), mt=(1015, 1870), ms=15),
    dict(box=(119, 2024, 493, 2358), y1=2055, y0=2355, x0=137, xe=477, risk=(2360, 2422), rows=(2383, 2412), lrows=(2395, 2423),
         rlab=113, grp=(22, 2410), time=(302, 2467), ylab=(55, 2215), gene=(38, 2015), let=(6, 1993), title=None,
         st=(200, 2052, 2074, 2103), leg=(426, 2050, 390, 2073, 2093, 368, 383), mt=(137, 2335), ms=15),
    dict(box=(1001, 2025, 1399, 2368), y1=2043, y0=2350, x0=1021, xe=1376, risk=(2370, 2430), rows=(2385, 2413), lrows=(2393, 2428),
         rlab=991, grp=(896, 2415), time=(1208, 2468), ylab=(948, 2197), gene=(926, 2020), let=(900, 1997), title=None,
         st=(1090, 2062, 2089, 2113), leg=(1321, 2049, 1290, 2075, 2096, 1266, 1282), mt=(1018, 2345), ms=15),
]


def pxx(x):
    return x / W


def pyy(y):
    return 1 - y / H


def axn(kind, n):
    return f"{kind}axis" if n == 1 else f"{kind}axis{n}"


def axr(kind, n):
    return kind if n == 1 else f"{kind}{n}"


def on_line(ts, ss, t):
    idx = 0
    for i in range(len(ts)):
        if ts[i] <= t:
            idx = i
    if idx < len(ts) - 1 and ts[idx + 1] > ts[idx] and t >= ts[idx]:
        f = (t - ts[idx]) / (ts[idx + 1] - ts[idx])
        return ss[idx] + f * (ss[idx + 1] - ss[idx])
    return ss[idx]


def font(size, color=TXT, bold=True):
    return dict(family=FONT, size=size, color=color, weight="bold" if bold else "normal")


fig = go.Figure()
annotations = []
shapes = []
layout = {}


def ann(text, x, y, size, color=TXT, xanchor="left", yanchor="middle", angle=0, bold=True, xref="paper", yref="paper"):
    annotations.append(dict(text=text, x=x, y=y, xref=xref, yref=yref, showarrow=False,
                            xanchor=xanchor, yanchor=yanchor, textangle=angle,
                            font=font(size, color, bold)))


for k, (p, g) in enumerate(zip(panels, geo)):
    nk, nr = 2 * k + 1, 2 * k + 2
    L, T, R, B = g["box"]
    xend = p["xt"][-1]
    ppx = (g["xe"] - g["x0"]) / xend
    xmin = -(g["x0"] - L) / ppx
    xmax = xend + (R - g["xe"]) / ppx
    ppy = g["y0"] - g["y1"]
    ymin = -(B - g["y0"]) / ppy
    ymax = 1 + (g["y1"] - T) / ppy
    rT, rB = g["risk"]

    xd = [pxx(L), pxx(R)]
    layout[axn("x", nk)] = dict(domain=xd, range=[xmin, xmax], anchor=axr("y", nk), showline=True, mirror=True,
                                linecolor=BOXC, linewidth=1.6, ticks="outside", ticklen=5, tickwidth=1.3,
                                tickcolor="#333", tickvals=p["xt"], showticklabels=False, showgrid=False, zeroline=False)
    layout[axn("y", nk)] = dict(domain=[pyy(B), pyy(T)], range=[ymin, ymax], anchor=axr("x", nk), showline=True,
                                mirror=True, linecolor=BOXC, linewidth=1.6, ticks="outside", ticklen=4, tickwidth=1.3,
                                tickcolor="#333", tickvals=Y_TICKS, ticktext=Y_TICKTEXT, tickfont=font(15),
                                showgrid=False, zeroline=False)
    minor_vals = [v + 2.5 for v in p["xt"][:-1]]
    layout[axn("x", nr)] = dict(domain=xd, range=[xmin, xmax], anchor=axr("y", nr), showline=True, mirror=True,
                                linecolor=BOXC, linewidth=1.6, ticks="", tickvals=p["xt"],
                                ticktext=[str(v) for v in p["xt"]], tickfont=font(16), showgrid=True,
                                gridcolor="#E6E6E6", gridwidth=1,
                                minor=dict(tickvals=minor_vals, showgrid=True, gridcolor="#F0F0F0", gridwidth=1),
                                zeroline=False)
    rv = lambda ypix, rB=rB, rT=rT: (rB - ypix) / (rB - rT)
    layout[axn("y", nr)] = dict(domain=[pyy(rB), pyy(rT)], range=[0, 1], anchor=axr("x", nr), showline=True,
                                mirror=True, linecolor=BOXC, linewidth=1.6, ticks="outside", ticklen=4,
                                tickwidth=1.3, tickcolor="#333", tickvals=[rv(g["lrows"][0]), rv(g["lrows"][1])],
                                showticklabels=False, showgrid=False, zeroline=False)

    xr, yr = axr("x", nk), axr("y", nk)
    # CI dashed lines
    for key, col in (("hu", RED), ("hl", RED), ("lu", BLUE), ("ll", BLUE)):
        t, s = p[key]
        fig.add_trace(go.Scatter(x=t, y=s, mode="lines", line=dict(color=col, width=1.4, dash="6px,4px"),
                                 xaxis=xr, yaxis=yr, hoverinfo="skip", showlegend=False))
    # median guide lines
    lev = p["medlev"]
    mx, my = [0, max(p["med"])], [lev, lev]
    for m in p["med"]:
        mx += [None, m, m]
        my += [None, lev, 0]
    fig.add_trace(go.Scatter(x=mx, y=my, mode="lines", line=dict(color="#111", width=1.6, dash="6px,4px"),
                             xaxis=xr, yaxis=yr, hoverinfo="skip", showlegend=False))
    # survival curves
    for key, ckey, col, halo, name in (("lo", "lc", BLUE, BLUE_HALO, GROUP_NAMES[1]),
                                       ("hi", "hc", RED, RED_HALO, GROUP_NAMES[0])):
        t, s = p[key]
        fig.add_trace(go.Scatter(x=t, y=s, mode="lines", line=dict(color=halo, width=6),
                                 xaxis=xr, yaxis=yr, hoverinfo="skip", showlegend=False))
        fig.add_trace(go.Scatter(x=t, y=s, mode="lines", line=dict(color=col, width=2.4), name=name,
                                 xaxis=xr, yaxis=yr, showlegend=False))
        cy = [on_line(t, s, c) for c in p[ckey]]
        fig.add_trace(go.Scatter(x=p[ckey], y=cy, mode="markers",
                                 marker=dict(symbol="line-ns", size=10, line=dict(width=1.4, color=col)),
                                 opacity=0.85, xaxis=xr, yaxis=yr, hoverinfo="skip", showlegend=False))

    # risk table: row gridlines + numbers
    for rowpix in g["rows"]:
        shapes.append(dict(type="line", xref="paper", yref=axr("y", nr), x0=pxx(L), x1=pxx(R),
                           y0=rv(rowpix), y1=rv(rowpix), line=dict(color="#E6E6E6", width=1), layer="below"))
    for vals, rowpix in ((p["rh"], g["rows"][0]), (p["rl"], g["rows"][1])):
        for tv, n in zip(p["xt"], vals):
            ann(str(n), tv, rv(rowpix), 15, xanchor="center", bold=p["numbold"], xref=axr("x", nr), yref=axr("y", nr))
    for name, lp in zip(GROUP_NAMES, g["lrows"]):
        ann(name, pxx(g["rlab"]), pyy(lp), 16, xanchor="right")

    # texts
    ann("Groups", pxx(g["grp"][0]), pyy(g["grp"][1]), 20, xanchor="center", angle=-90)
    ann("Time (years)", pxx(g["time"][0]), pyy(g["time"][1]), 14, xanchor="center")
    ann("Progression free survival probability", pxx(g["ylab"][0]), pyy(g["ylab"][1]), 20, xanchor="center", angle=-90)
    ann(p["gene"], pxx(g["gene"][0]), pyy(g["gene"][1]), 16)
    ann(p["letter"], pxx(g["let"][0]), pyy(g["let"][1]), 21)
    if p["title"]:
        ann(p["title"], pxx(g["title"][0]), pyy(g["title"][1]), 15, xanchor="center", bold=False)
    sx, s1, s2, s3 = g["st"]
    for line_txt, yy in zip(p["stats"], (s1, s2, s3)):
        ann(line_txt, pxx(sx), pyy(yy), 15)
    gcx, gy, tx, hy, ly, sx0, sx1 = g["leg"]
    ann("Groups", pxx(gcx), pyy(gy), 16, xanchor="center")
    ann(GROUP_NAMES[0], pxx(tx), pyy(hy), 16)
    ann(GROUP_NAMES[1], pxx(tx), pyy(ly), 16)
    for yy, col in ((hy, RED), (ly, BLUE)):
        shapes.append(dict(type="line", xref="paper", yref="paper", x0=pxx(sx0), x1=pxx(sx1),
                           y0=pyy(yy), y1=pyy(yy), line=dict(color=col, width=3)))
        cxm = (sx0 + sx1) / 2
        shapes.append(dict(type="line", xref="paper", yref="paper", x0=pxx(cxm), x1=pxx(cxm),
                           y0=pyy(yy - 4), y1=pyy(yy + 4), line=dict(color=col, width=1.3)))
    ann(p["medtxt"], pxx(g["mt"][0]), pyy(g["mt"][1]), g["ms"], color=MED_RED)

layout.update(dict(width=W, height=H, autosize=False, margin=dict(l=0, r=0, t=0, b=0),
                   paper_bgcolor="white", plot_bgcolor="white", showlegend=False,
                   annotations=annotations, shapes=shapes, font=dict(family=FONT)))
fig.update_layout(**layout)
fig.write_html("out.html")
